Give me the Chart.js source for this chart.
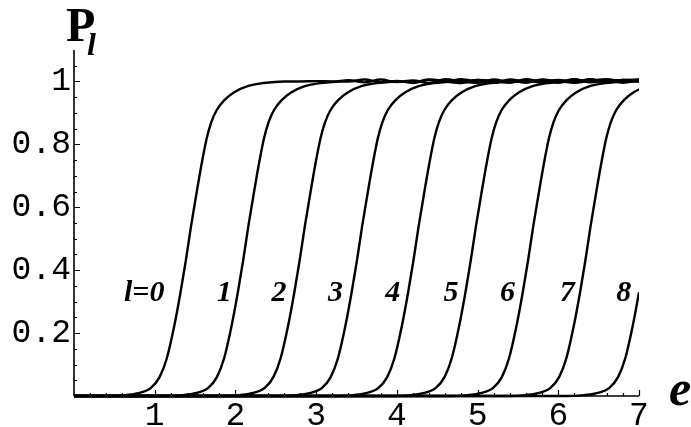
<!DOCTYPE html>
<html>
<head>
<meta charset="utf-8">
<script src="https://cdn.jsdelivr.net/npm/chart.js@4.4.1/dist/chart.umd.min.js"></script>
<style>
html, body { margin: 0; padding: 0; background: #fff; }
canvas { display: block; }
</style>
</head>
<body>
<canvas id="chart" width="691" height="427"></canvas>
<script>
// P levels read on the rising part of every curve
var riseP = [0, 0, 0.002, 0.008, 0.025, 0.06, 0.12, 0.22, 0.33, 0.43, 0.54, 0.64, 0.75, 0.82, 0.87, 0.91, 0.94, 0.965, 0.985, 0.995, 1.0];

// e at which curve l reaches the levels above (curves 7 and 8 run past e = 7 and are clipped)
var riseE = [
    [0, 0.45, 0.60, 0.78, 0.95, 1.06, 1.15, 1.24, 1.32, 1.385, 1.45, 1.515, 1.59, 1.645, 1.70, 1.77, 1.86, 1.98, 2.15, 2.35, 2.60],
    [0, 1.16, 1.31, 1.49, 1.66, 1.77, 1.86, 1.95, 2.03, 2.095, 2.16, 2.225, 2.30, 2.355, 2.41, 2.48, 2.57, 2.69, 2.86, 3.06, 3.31],
    [0, 1.86, 2.01, 2.19, 2.36, 2.47, 2.56, 2.65, 2.73, 2.795, 2.86, 2.925, 3.00, 3.055, 3.11, 3.18, 3.27, 3.39, 3.56, 3.76, 4.01],
    [0, 2.57, 2.72, 2.90, 3.07, 3.18, 3.27, 3.36, 3.44, 3.505, 3.57, 3.635, 3.71, 3.765, 3.82, 3.89, 3.98, 4.10, 4.27, 4.47, 4.72],
    [0, 3.27, 3.42, 3.60, 3.77, 3.88, 3.97, 4.06, 4.14, 4.205, 4.27, 4.335, 4.41, 4.465, 4.52, 4.59, 4.68, 4.80, 4.97, 5.17, 5.42],
    [0, 3.98, 4.13, 4.31, 4.48, 4.59, 4.68, 4.77, 4.85, 4.915, 4.98, 5.045, 5.12, 5.175, 5.23, 5.30, 5.39, 5.51, 5.68, 5.88, 6.13],
    [0, 4.69, 4.84, 5.02, 5.19, 5.30, 5.39, 5.48, 5.56, 5.625, 5.69, 5.755, 5.83, 5.885, 5.94, 6.01, 6.10, 6.22, 6.39, 6.59, 6.84],
    [0, 5.40, 5.55, 5.73, 5.90, 6.01, 6.10, 6.19, 6.27, 6.335, 6.40, 6.465, 6.54, 6.595, 6.65, 6.72, 6.81, 6.93, 7.10],
    [0, 6.13, 6.28, 6.46, 6.63, 6.74, 6.83, 6.92, 7.00, 7.065]
];

// noisy saturated part near P = 1 (null = curve not yet saturated)
var tailE = [2.8, 3.0, 3.2, 3.4, 3.6, 3.8, 4.0, 4.2, 4.4, 4.6, 4.8, 5.0, 5.2, 5.4, 5.6, 5.8, 6.0, 6.2, 6.4, 6.6, 6.8, 7.0];
var tailP = [
    [1.0, 1.001, 1.0, 1.004, 0.997, 1.006, 0.998, 1.003, 0.995, 1.007, 1.0, 0.996, 1.006, 0.999, 1.004, 0.995, 1.003, 1.0, 1.007, 0.997, 1.004, 1.001],
    [null, null, null, 1.0, 1.006, 0.998, 1.002, 0.995, 1.005, 1.0, 1.007, 0.998, 0.996, 1.006, 1.0, 1.004, 0.996, 1.006, 0.999, 1.004, 0.996, 1.003],
    [null, null, null, null, null, null, null, 0.998, 1.006, 1.0, 0.995, 1.005, 1.002, 0.996, 1.007, 0.999, 1.005, 0.996, 1.002, 1.007, 1.0, 1.004],
    [null, null, null, null, null, null, null, null, null, null, 1.0, 1.005, 0.997, 1.003, 0.996, 1.006, 1.0, 1.007, 0.997, 1.004, 1.0, 1.006],
    [null, null, null, null, null, null, null, null, null, null, null, null, null, null, 0.998, 1.005, 1.0, 0.996, 1.006, 1.001, 1.005, 1.003],
    [null, null, null, null, null, null, null, null, null, null, null, null, null, null, null, null, null, 1.0, 1.004, 0.997, 1.005, 1.006],
    [null, null, null, null, null, null, null, null, null, null, null, null, null, null, null, null, null, null, null, null, null, 1.0],
    [],
    []
];

var curveText = ['l=0', '1', '2', '3', '4', '5', '6', '7', '8'];
var curveTextE = [0.87, 1.86, 2.54, 3.24, 3.95, 4.67, 5.37, 6.11, 6.81];
var curveTextP = 0.327;

var xTicks = [1, 2, 3, 4, 5, 6, 7];
var xTickLabels = ['1', '2', '3', '4', '5', '6', '7'];
var yTicks = [0.2, 0.4, 0.6, 0.8, 1];
var yTickLabels = ['0.2', '0.4', '0.6', '0.8', '1'];

var datasets = [];
for (var l = 0; l < riseE.length; l++) {
    var pts = [];
    for (var k = 0; k < riseE[l].length; k++) {
        pts.push({x: riseE[l][k], y: riseP[k]});
    }
    for (var k = 0; k < tailP[l].length; k++) {
        if (tailP[l][k] != null) pts.push({x: tailE[k], y: tailP[l][k]});
    }
    datasets.push({
        data: pts,
        borderColor: '#000',
        borderWidth: 2.4,
        pointRadius: 0,
        fill: false,
        cubicInterpolationMode: 'monotone',
        clip: {left: 5, top: 5, right: 0, bottom: 5}
    });
}

var tickFont = {family: '"Liberation Mono", "Courier New", monospace', size: 33};

// Mathematica style axes: ticks point inward, minor ticks between
var axesPlugin = {
    id: 'mmaAxes',
    afterDatasetsDraw: function(chart) {
        var ctx = chart.ctx, xs = chart.scales.x, ys = chart.scales.y;
        var ox = xs.getPixelForValue(0), oy = ys.getPixelForValue(0);
        var ex = xs.getPixelForValue(7), ty = ys.getPixelForValue(1.1);
        ctx.save();
        ctx.strokeStyle = '#000';
        ctx.lineWidth = 1.6;
        ctx.beginPath();
        ctx.moveTo(ox, oy); ctx.lineTo(ex, oy);
        ctx.moveTo(ox, oy); ctx.lineTo(ox, ty);
        ctx.stroke();

        ctx.lineWidth = 1.2;
        ctx.beginPath();
        for (var i = 1; i <= 35; i++) {
            var px = Math.round(xs.getPixelForValue(i / 5)) + 0.5;
            var len = (i % 5 == 0) ? 6 : 3;
            ctx.moveTo(px, oy); ctx.lineTo(px, oy - len);
        }
        for (var j = 1; j <= 21; j++) {
            var py = Math.round(ys.getPixelForValue(j / 20)) + 0.5;
            var len2 = (j % 4 == 0) ? 6 : 3;
            ctx.moveTo(ox, py); ctx.lineTo(ox + len2, py);
        }
        ctx.stroke();

        // curve labels
        ctx.fillStyle = '#000';
        ctx.font = 'italic bold 30px "Liberation Serif", serif';
        ctx.textAlign = 'center';
        ctx.textBaseline = 'middle';
        for (var n = 0; n < curveText.length; n++) {
            ctx.fillText(curveText[n], xs.getPixelForValue(curveTextE[n]), ys.getPixelForValue(curveTextP));
        }

        // axis names
        ctx.textAlign = 'left';
        ctx.textBaseline = 'alphabetic';
        ctx.font = 'bold 48px "Liberation Serif", serif';
        ctx.fillText('P', 66, 41);
        ctx.font = 'italic bold 32px "Liberation Serif", serif';
        ctx.fillText('l', 87, 55);
        ctx.font = 'italic bold 50px "Liberation Serif", serif';
        ctx.fillText('e', 669, 405);
        ctx.restore();
    }
};

var myChart = new Chart(document.getElementById('chart').getContext('2d'), {
    type: 'line',
    data: {datasets: datasets},
    plugins: [axesPlugin],
    options: {
        responsive: false,
        animation: false,
        devicePixelRatio: 1,
        layout: {padding: {left: 0, right: 52, top: 50, bottom: 0}},
        plugins: {legend: {display: false}, tooltip: {enabled: false}},
        scales: {
            x: {
                type: 'linear',
                min: 0,
                max: 7,
                grid: {display: false, drawTicks: false},
                border: {display: false},
                afterBuildTicks: function(s) { s.ticks = xTicks.map(function(v) { return {value: v}; }); },
                afterFit: function(s) { s.height = 31; },
                ticks: {
                    font: tickFont,
                    color: '#000',
                    padding: 0,
                    maxRotation: 0,
                    callback: function(v) { return xTickLabels[xTicks.indexOf(v)]; }
                }
            },
            y: {
                type: 'linear',
                min: 0,
                max: 1.1,
                grid: {display: false, drawTicks: false},
                border: {display: false},
                afterBuildTicks: function(s) { s.ticks = yTicks.map(function(v) { return {value: v}; }); },
                afterFit: function(s) { s.width = 74; },
                ticks: {
                    font: tickFont,
                    color: '#000',
                    padding: 3,
                    callback: function(v) { return yTickLabels[yTicks.indexOf(v)]; }
                }
            }
        }
    }
});
</script>
</body>
</html>
